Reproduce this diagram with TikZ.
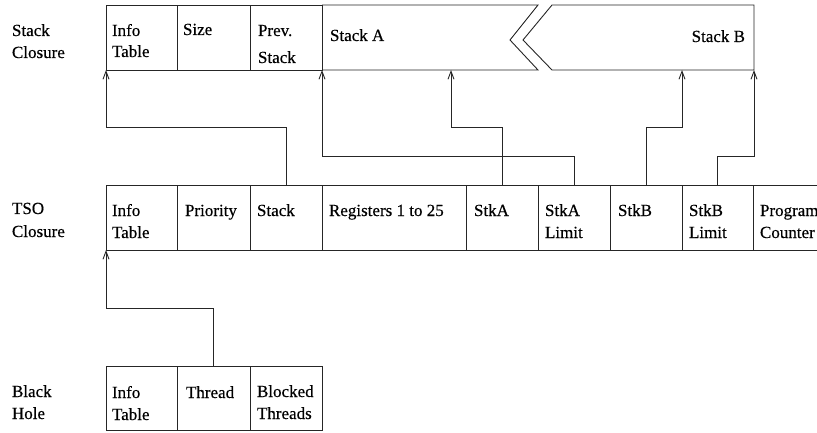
\documentclass[tikz,border=0pt]{standalone}
\usepackage{fontspec}
\setmainfont{Liberation Serif}[FakeBold=0.4]
\usetikzlibrary{arrows.meta}
\tikzset{
  ln/.style={draw=black!85, line width=0.9pt},
  cell/.style={ln, anchor=north west, inner sep=0pt, outer sep=0pt, minimum height=65pt},
  txt/.style={anchor=base west, inner sep=0pt, outer sep=0pt, font=\fontsize{17}{22}\selectfont},
  conn/.style={ln, -{Straight Barb[length=8pt,width=6pt]}},
}
\begin{document}
\begin{tikzpicture}[x=1pt,y=-1pt]
\useasboundingbox (0,0) rectangle (817,433);
\clip (0,0) rectangle (817,433);

% ---------- Stack closure ----------
\node[txt] (lSa) at (12,36) {Stack};
\node[txt] (lSb) at (12,58) {Closure};
\node[cell, minimum width=71pt] (sInfo) at (106,5) {};
\node[cell, minimum width=73pt] (sSize) at (177,5) {};
\node[cell, minimum width=72pt] (sPrev) at (250,5) {};
% stack A and stack B, with a break between them
\draw[ln] (322,5) -- (538,5) -- (510,40) -- (538,70) -- (322,70);
\draw[ln] (552,5) -- (754,5) -- (754,70) -- (552,70) -- (523,40) -- cycle;
\coordinate (pA) at (451,70);
\coordinate (pB) at (682,70);
\coordinate (pBL) at (754,70);

\node[txt] (sInfo1) at (112,36) {Info};
\node[txt] (sInfo2) at (112,57) {Table};
\node[txt] (sSize1) at (183,35) {Size};
\node[txt] (sPrev1) at (258,36) {Prev.};
\node[txt] (sPrev2) at (258,63) {Stack};
\node[txt] (sStkA) at (330,41) {Stack A};
\node[txt, anchor=base east] (sStkB) at (745,42) {Stack B};

% ---------- TSO closure ----------
\node[txt] (lTa) at (12,214) {TSO};
\node[txt] (lTb) at (12,237) {Closure};
\node[cell, minimum width=71pt] (tInfo) at (106,185) {};
\node[cell, minimum width=73pt] (tPrio) at (177,185) {};
\node[cell, minimum width=72pt] (tStack) at (250,185) {};
\node[cell, minimum width=144pt] (tRegs) at (322,185) {};
\node[cell, minimum width=72pt] (tStkA) at (466,185) {};
\node[cell, minimum width=72pt] (tStkAL) at (538,185) {};
\node[cell, minimum width=72pt] (tStkB) at (610,185) {};
\node[cell, minimum width=71pt] (tStkBL) at (682,185) {};
\node[cell, minimum width=80pt] (tPC) at (753,185) {};

\node[txt] (tInfo1) at (112,216) {Info};
\node[txt] (tInfo2) at (112,238) {Table};
\node[txt] (tPrio1) at (185,216) {Priority};
\node[txt] (tStack1) at (257,216) {Stack};
\node[txt] (tRegs1) at (329,216) {Registers 1 to 25};
\node[txt] (tStkA1) at (474,216) {StkA};
\node[txt] (tStkAL1) at (545,216) {StkA};
\node[txt] (tStkAL2) at (545,238) {Limit};
\node[txt] (tStkB1) at (618,216) {StkB};
\node[txt] (tStkBL1) at (689,216) {StkB};
\node[txt] (tStkBL2) at (689,238) {Limit};
\node[txt] (tPC1) at (760,216) {Program};
\node[txt] (tPC2) at (760,238) {Counter};

% ---------- Black hole ----------
\node[txt] (lBa) at (12,397) {Black};
\node[txt] (lBb) at (12,419) {Hole};
\node[cell, minimum width=71pt, minimum height=64pt] (bInfo) at (106,366) {};
\node[cell, minimum width=73pt, minimum height=64pt] (bThread) at (177,366) {};
\node[cell, minimum width=72pt, minimum height=64pt] (bBlocked) at (250,366) {};

\node[txt] (bInfo1) at (112,398) {Info};
\node[txt] (bInfo2) at (112,420) {Table};
\node[txt] (bThread1) at (186,398) {Thread};
\node[txt] (bBlocked1) at (257,397) {Blocked};
\node[txt] (bBlocked2) at (257,419) {Threads};

% ---------- pointers ----------
\draw[conn] (tStack.north) -- (tStack.north |- 0,127) -| (sInfo.south west);
\draw[conn] (tStkA.north) -- (tStkA.north |- 0,127) -| (pA);
\draw[conn] (tStkAL.north) -- (tStkAL.north |- 0,156.5) -| (sPrev.south east);
\draw[conn] (tStkB.north) -- (tStkB.north |- 0,127) -| (pB);
\draw[conn] (tStkBL.north) -- (tStkBL.north |- 0,156.5) -| (pBL);
\draw[conn] (bThread.north) -- (bThread.north |- 0,308) -| (tInfo.south west);
\end{tikzpicture}
\end{document}
